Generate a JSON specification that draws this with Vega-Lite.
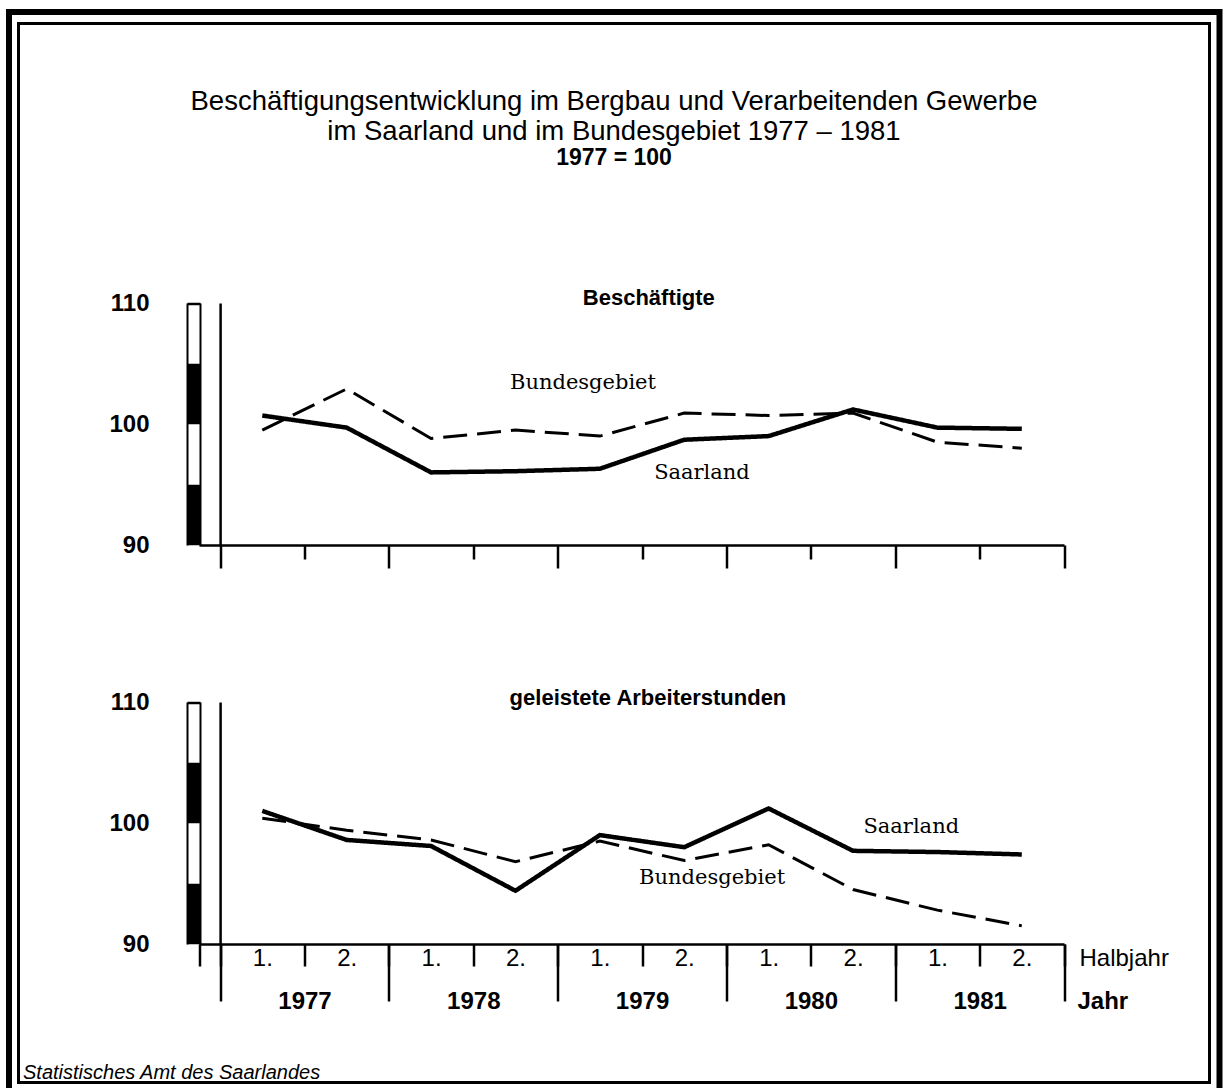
{
  "$schema": "https://vega.github.io/schema/vega-lite/v6.json",
  "width": 1191,
  "height": 1059,
  "autosize": {"type": "none"},
  "padding": {"left": 18.5, "top": 23.5, "right": 17.5, "bottom": 5.5},
  "background": "white",
  "config": {
    "view": {"stroke": "black", "strokeWidth": 3},
    "font": "Liberation Sans",
    "axis": {"grid": false, "domainColor": "black", "tickColor": "black", "labelColor": "black", "titleColor": "black", "labelOverlap": false, "labelFlush": false, "labelBound": false, "labelFont": "Liberation Sans"}
  },
  "title": {
    "text": ["Beschäftigungsentwicklung im Bergbau und Verarbeitenden Gewerbe", "im Saarland und im Bundesgebiet  1977 – 1981"],
    "subtitle": "1977 = 100",
    "anchor": "middle",
    "frame": "group",
    "orient": "top",
    "offset": -161,
    "font": "Liberation Sans",
    "fontSize": 27.5,
    "fontWeight": "normal",
    "color": "black",
    "lineHeight": 30,
    "subtitleFont": "Liberation Sans",
    "subtitleFontSize": 23,
    "subtitleFontWeight": "bold",
    "subtitleColor": "black",
    "subtitlePadding": 2
  },
  "datasets": {
    "oben": [
      {"periode": "1977 1.", "t": 0.5, "gebiet": "Saarland", "index": 100.7},
      {"periode": "1977 2.", "t": 1.5, "gebiet": "Saarland", "index": 99.7},
      {"periode": "1978 1.", "t": 2.5, "gebiet": "Saarland", "index": 96.0},
      {"periode": "1978 2.", "t": 3.5, "gebiet": "Saarland", "index": 96.1},
      {"periode": "1979 1.", "t": 4.5, "gebiet": "Saarland", "index": 96.3},
      {"periode": "1979 2.", "t": 5.5, "gebiet": "Saarland", "index": 98.7},
      {"periode": "1980 1.", "t": 6.5, "gebiet": "Saarland", "index": 99.0},
      {"periode": "1980 2.", "t": 7.5, "gebiet": "Saarland", "index": 101.2},
      {"periode": "1981 1.", "t": 8.5, "gebiet": "Saarland", "index": 99.7},
      {"periode": "1981 2.", "t": 9.5, "gebiet": "Saarland", "index": 99.6},
      {"periode": "1977 1.", "t": 0.5, "gebiet": "Bundesgebiet", "index": 99.5},
      {"periode": "1977 2.", "t": 1.5, "gebiet": "Bundesgebiet", "index": 102.9},
      {"periode": "1978 1.", "t": 2.5, "gebiet": "Bundesgebiet", "index": 98.8},
      {"periode": "1978 2.", "t": 3.5, "gebiet": "Bundesgebiet", "index": 99.5},
      {"periode": "1979 1.", "t": 4.5, "gebiet": "Bundesgebiet", "index": 99.0},
      {"periode": "1979 2.", "t": 5.5, "gebiet": "Bundesgebiet", "index": 100.9},
      {"periode": "1980 1.", "t": 6.5, "gebiet": "Bundesgebiet", "index": 100.7},
      {"periode": "1980 2.", "t": 7.5, "gebiet": "Bundesgebiet", "index": 100.9},
      {"periode": "1981 1.", "t": 8.5, "gebiet": "Bundesgebiet", "index": 98.5},
      {"periode": "1981 2.", "t": 9.5, "gebiet": "Bundesgebiet", "index": 98.0}
    ],
    "unten": [
      {"periode": "1977 1.", "t": 0.5, "gebiet": "Saarland", "index": 101.0},
      {"periode": "1977 2.", "t": 1.5, "gebiet": "Saarland", "index": 98.6},
      {"periode": "1978 1.", "t": 2.5, "gebiet": "Saarland", "index": 98.1},
      {"periode": "1978 2.", "t": 3.5, "gebiet": "Saarland", "index": 94.4},
      {"periode": "1979 1.", "t": 4.5, "gebiet": "Saarland", "index": 99.0},
      {"periode": "1979 2.", "t": 5.5, "gebiet": "Saarland", "index": 98.0},
      {"periode": "1980 1.", "t": 6.5, "gebiet": "Saarland", "index": 101.2},
      {"periode": "1980 2.", "t": 7.5, "gebiet": "Saarland", "index": 97.7},
      {"periode": "1981 1.", "t": 8.5, "gebiet": "Saarland", "index": 97.6},
      {"periode": "1981 2.", "t": 9.5, "gebiet": "Saarland", "index": 97.4},
      {"periode": "1977 1.", "t": 0.5, "gebiet": "Bundesgebiet", "index": 100.4},
      {"periode": "1977 2.", "t": 1.5, "gebiet": "Bundesgebiet", "index": 99.4},
      {"periode": "1978 1.", "t": 2.5, "gebiet": "Bundesgebiet", "index": 98.6},
      {"periode": "1978 2.", "t": 3.5, "gebiet": "Bundesgebiet", "index": 96.8},
      {"periode": "1979 1.", "t": 4.5, "gebiet": "Bundesgebiet", "index": 98.5},
      {"periode": "1979 2.", "t": 5.5, "gebiet": "Bundesgebiet", "index": 96.9},
      {"periode": "1980 1.", "t": 6.5, "gebiet": "Bundesgebiet", "index": 98.2},
      {"periode": "1980 2.", "t": 7.5, "gebiet": "Bundesgebiet", "index": 94.5},
      {"periode": "1981 1.", "t": 8.5, "gebiet": "Bundesgebiet", "index": 92.8},
      {"periode": "1981 2.", "t": 9.5, "gebiet": "Bundesgebiet", "index": 91.5}
    ]
  },
  "layer": [
    {
      "layer": [
        {
          "data": {"name": "oben"},
          "mark": {"type": "line", "color": "black", "strokeCap": "butt"},
          "encoding": {
            "x": {"field": "t", "type": "quantitative",
              "scale": {"domain": [-0.25, 10], "range": [180.5, 1045.5], "nice": false, "zero": false},
              "axis": {"orient": "bottom", "offset": -537.5, "values": [0,1,2,3,4,5,6,7,8,9,10], "labels": false, "domain": true, "domainWidth": 2.5, "ticks": true, "tickWidth": 2.5, "tickSize": {"condition": {"test": "datum.value % 2 == 0", "value": 23}, "value": 14}, "title": null, "grid": false}},
            "y": {"field": "index", "type": "quantitative",
              "scale": {"domain": [90, 110], "range": [521.5, 279.5], "nice": false, "zero": false},
              "axis": {"orient": "left", "offset": -181.5, "values": [90, 100, 110], "ticks": false, "domain": false, "labelPadding": 51, "labelFontSize": 24, "labelFontWeight": "bold", "labelBaseline": "middle", "labelAlign": "right", "title": null, "grid": false}},
            "strokeDash": {"field": "gebiet", "type": "nominal", "scale": {"domain": ["Saarland", "Bundesgebiet"], "range": [[1, 0], [24, 10]]}, "legend": null},
            "strokeWidth": {"condition": {"test": "datum.gebiet == 'Saarland'", "value": 4.5}, "value": 3}
          }
        },
        {
          "data": {"values": [{}]},
          "mark": {"type": "text", "text": "Bundesgebiet", "font": "DejaVu Serif", "fontSize": 21, "color": "black", "baseline": "middle", "align": "center"},
          "encoding": {
            "x": {"datum": 4.3, "type": "quantitative", "scale": {"domain": [-0.25, 10], "range": [180.5, 1045.5], "nice": false, "zero": false}, "axis": null},
            "y": {"datum": 103.4, "type": "quantitative", "scale": {"domain": [90, 110], "range": [521.5, 279.5], "nice": false, "zero": false},
              "axis": {"orient": "left", "offset": -181.5, "values": [92.5, 102.5, 110], "labels": false, "domain": true, "domainWidth": 2, "ticks": true, "tickSize": 13, "tickWidth": {"condition": {"test": "datum.value == 110", "value": 2.5}, "value": 60.5}, "title": null, "grid": false}}
          }
        },
        {
          "data": {"values": [{}]},
          "mark": {"type": "text", "text": "Saarland", "font": "DejaVu Serif", "fontSize": 21, "color": "black", "baseline": "middle", "align": "center"},
          "encoding": {
            "x": {"datum": 5.71, "type": "quantitative", "scale": {"domain": [-0.25, 10], "range": [180.5, 1045.5], "nice": false, "zero": false}, "axis": null},
            "y": {"datum": 95.95, "type": "quantitative", "scale": {"domain": [90, 110], "range": [521.5, 279.5], "nice": false, "zero": false},
              "axis": {"orient": "left", "offset": -168.5, "domain": true, "domainWidth": 2, "ticks": false, "labels": false, "title": null, "grid": false}}
          }
        },
        {
          "data": {"values": [{}]},
          "mark": {"type": "text", "text": "Beschäftigte", "font": "Liberation Sans", "fontSize": 22, "fontWeight": "bold", "color": "black", "baseline": "alphabetic", "align": "center", "dy": 2},
          "encoding": {
            "x": {"datum": 5.08, "type": "quantitative", "scale": {"domain": [-0.25, 10], "range": [180.5, 1045.5], "nice": false, "zero": false}, "axis": null},
            "y": {"datum": 110, "type": "quantitative", "scale": {"domain": [90, 110], "range": [521.5, 279.5], "nice": false, "zero": false},
              "axis": {"orient": "left", "offset": -201.6, "domain": true, "domainWidth": 2.5, "ticks": false, "labels": false, "title": null, "grid": false}}
          }
        }
      ],
      "resolve": {"axis": {"x": "independent", "y": "independent"}}
    },
    {
      "layer": [
        {
          "data": {"name": "unten"},
          "mark": {"type": "line", "color": "black", "strokeCap": "butt"},
          "encoding": {
            "x": {"field": "t", "type": "quantitative",
              "scale": {"domain": [-0.25, 10], "range": [180.5, 1045.5], "nice": false, "zero": false},
              "axis": {"orient": "bottom", "offset": -138.5, "values": [-0.25,0,1,2,3,4,5,6,7,8,9,10], "domain": true, "domainWidth": 2.5, "ticks": true, "tickWidth": 2.5, "tickSize": 22,
                "labelExpr": "datum.value < 0 ? '' : datum.value == 10 ? 'Halbjahr' : (datum.value % 2 == 0 ? '1.' : '2.')",
                "labelOffset": {"condition": {"test": "datum.value == 10", "value": 15}, "value": 42.2},
                "labelAlign": {"condition": {"test": "datum.value == 10", "value": "left"}, "value": "center"},
                "labelBaseline": "middle", "labelPadding": -8, "labelFontSize": 24, "labelFontWeight": "normal", "title": null, "grid": false}},
            "y": {"field": "index", "type": "quantitative",
              "scale": {"domain": [90, 110], "range": [920.5, 678.5], "nice": false, "zero": false},
              "axis": {"orient": "left", "offset": -181.5, "values": [90, 100, 110], "ticks": false, "domain": false, "labelPadding": 51, "labelFontSize": 24, "labelFontWeight": "bold", "labelBaseline": "middle", "labelAlign": "right", "title": null, "grid": false}},
            "strokeDash": {"field": "gebiet", "type": "nominal", "scale": {"domain": ["Saarland", "Bundesgebiet"], "range": [[1, 0], [24, 10]]}, "legend": null},
            "strokeWidth": {"condition": {"test": "datum.gebiet == 'Saarland'", "value": 4.5}, "value": 3}
          }
        },
        {
          "data": {"values": [{}]},
          "mark": {"type": "text", "text": "Bundesgebiet", "font": "DejaVu Serif", "fontSize": 21, "color": "black", "baseline": "middle", "align": "center"},
          "encoding": {
            "x": {"datum": 5.83, "type": "quantitative", "scale": {"domain": [-0.25, 10], "range": [180.5, 1045.5], "nice": false, "zero": false}, "axis": null},
            "y": {"datum": 95.43, "type": "quantitative", "scale": {"domain": [90, 110], "range": [920.5, 678.5], "nice": false, "zero": false},
              "axis": {"orient": "left", "offset": -181.5, "values": [92.5, 102.5, 110], "labels": false, "domain": true, "domainWidth": 2, "ticks": true, "tickSize": 13, "tickWidth": {"condition": {"test": "datum.value == 110", "value": 2.5}, "value": 60.5}, "title": null, "grid": false}}
          }
        },
        {
          "data": {"values": [{}]},
          "mark": {"type": "text", "text": "Saarland", "font": "DejaVu Serif", "fontSize": 21, "color": "black", "baseline": "middle", "align": "center"},
          "encoding": {
            "x": {"datum": 8.19, "type": "quantitative", "scale": {"domain": [-0.25, 10], "range": [180.5, 1045.5], "nice": false, "zero": false},
              "axis": {"orient": "bottom", "offset": -138.5, "values": [0, 2, 4, 6, 8, 10], "domain": false, "ticks": true, "tickSize": 57, "tickWidth": 2.5,
                "labelExpr": "datum.value == 0 ? '1977' : datum.value == 2 ? '1978' : datum.value == 4 ? '1979' : datum.value == 6 ? '1980' : datum.value == 8 ? '1981' : 'Jahr'",
                "labelOffset": {"condition": {"test": "datum.value == 10", "value": 13}, "value": 84.4},
                "labelAlign": {"condition": {"test": "datum.value == 10", "value": "left"}, "value": "center"},
                "labelBaseline": "middle", "labelPadding": 0, "labelFontSize": 24, "labelFontWeight": "bold", "title": null, "grid": false}},
            "y": {"datum": 99.64, "type": "quantitative", "scale": {"domain": [90, 110], "range": [920.5, 678.5], "nice": false, "zero": false},
              "axis": {"orient": "left", "offset": -168.5, "domain": true, "domainWidth": 2, "ticks": false, "labels": false, "title": null, "grid": false}}
          }
        },
        {
          "data": {"values": [{}]},
          "mark": {"type": "text", "text": "geleistete Arbeiterstunden", "font": "Liberation Sans", "fontSize": 22, "fontWeight": "bold", "color": "black", "baseline": "alphabetic", "align": "center", "dy": 3},
          "encoding": {
            "x": {"datum": 5.07, "type": "quantitative", "scale": {"domain": [-0.25, 10], "range": [180.5, 1045.5], "nice": false, "zero": false}, "axis": null},
            "y": {"datum": 110, "type": "quantitative", "scale": {"domain": [90, 110], "range": [920.5, 678.5], "nice": false, "zero": false},
              "axis": {"orient": "left", "offset": -201.6, "domain": true, "domainWidth": 2.5, "ticks": false, "labels": false, "title": null, "grid": false}}
          }
        }
      ],
      "resolve": {"axis": {"x": "independent", "y": "independent"}}
    },
    {
      "data": {"values": [{}]},
      "mark": {"type": "rect", "filled": false, "stroke": "black", "strokeWidth": 6},
      "encoding": {
        "x": {"datum": 0, "type": "quantitative", "scale": {"domain": [0, 1], "range": [-9.5, 1201], "nice": false, "zero": false},
          "axis": {"orient": "bottom", "domain": false, "ticks": false, "labels": false, "grid": false,
            "title": "Statistisches Amt des Saarlandes", "titleFont": "Liberation Sans", "titleFontStyle": "italic", "titleFontWeight": "normal", "titleFontSize": 20,
            "titleX": 4, "titleY": -4, "titleAlign": "left", "titleAnchor": "start", "titleBaseline": "alphabetic"}},
        "x2": {"datum": 1},
        "y": {"datum": 0, "type": "quantitative", "scale": {"domain": [0, 1], "range": [-11.5, 1090], "nice": false, "zero": false}, "axis": null},
        "y2": {"datum": 1}
      }
    }
  ],
  "resolve": {"scale": {"x": "independent", "y": "independent"}, "axis": {"x": "independent", "y": "independent"}}
}
